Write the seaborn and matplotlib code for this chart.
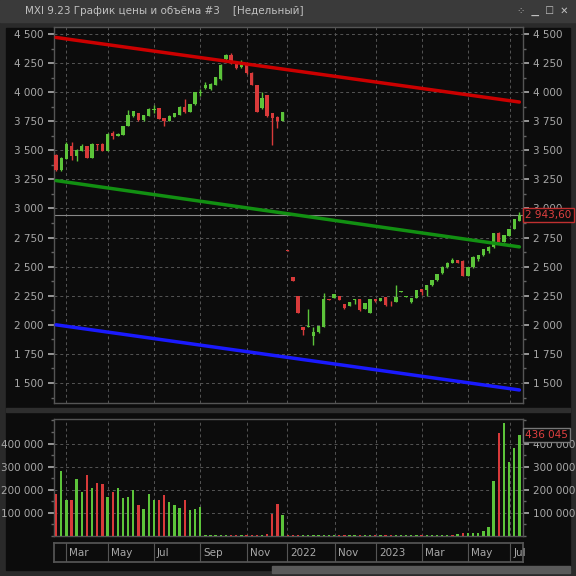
import numpy as np
import pandas as pd
import matplotlib
matplotlib.use("Agg")
import matplotlib.pyplot as plt
import seaborn as sns
from matplotlib.ticker import FixedLocator, MultipleLocator, FuncFormatter

# weekly candles (open, close), index 0..90
opens = [3456, 3330, 3428, 3534, 3451, 3494, 3534, 3436, 3551, 3554, 3494, 3646, 3623, 3631, 3709,
         3795, 3818, 3760, 3795, 3848, 3861, 3775, 3752, 3789, 3803, 3875, 3829, 3895, 3996, 4036,
         4024, 4064, 4110, 4282, 4319, 4262, 4213, 4233, 4167, 4061, 3861, 3972, 3818, 3789, 3755,
         2643, 2410, 2247, 1983, 1980, 1908, 1937, 1983, 2221, 2232, 2247, 2178, 2164, 2216, 2221,
         2138, 2103, 2224, 2207, 2238, 2206, 2195, 2285, 2242, 2195, 2232, 2307, 2298, 2341, 2384,
         2442, 2493, 2533, 2556, 2550, 2422, 2493, 2565, 2596, 2637, 2665, 2791, 2711, 2763, 2823, 2895]
closes = [3330, 3436, 3554, 3451, 3502, 3534, 3436, 3551, 3545, 3494, 3640, 3623, 3640, 3709, 3803,
          3835, 3760, 3800, 3852, 3854, 3769, 3752, 3795, 3818, 3875, 3829, 3895, 4001, 4000, 4064,
          4073, 4127, 4233, 4316, 4248, 4205, 4248, 4162, 4061, 3832, 3947, 3795, 3775, 3755, 3829,
          2637, 2379, 2103, 1954, 1986, 1937, 1989, 2221, 2215, 2261, 2213, 2144, 2195, 2220, 2126,
          2184, 2221, 2204, 2232, 2170, 2202, 2235, 2289, 2246, 2232, 2298, 2284, 2341, 2384, 2433,
          2499, 2533, 2556, 2533, 2422, 2493, 2585, 2596, 2648, 2671, 2786, 2714, 2769, 2823, 2906, 2944]
highs = [3470, 3445, 3570, 3570, 3510, 3552, 3540, 3560, 3552, 3560, 3650, 3665, 3645, 3712, 3845,
         3840, 3822, 3805, 3860, 3890, 3866, 3780, 3800, 3822, 3880, 3945, 3900, 4005, 4025, 4090,
         4078, 4130, 4240, 4330, 4340, 4265, 4275, 4240, 4170, 4065, 4005, 3975, 3822, 3795, 3832,
         2645, 2412, 2250, 1985, 2135, 1980, 1992, 2270, 2225, 2265, 2250, 2180, 2197, 2222, 2225,
         2186, 2222, 2226, 2234, 2240, 2206, 2340, 2290, 2248, 2234, 2300, 2310, 2344, 2386, 2436,
         2502, 2536, 2572, 2558, 2553, 2496, 2588, 2600, 2650, 2674, 2790, 2795, 2772, 2826, 2910, 2972]
lows = [3325, 3320, 3425, 3420, 3405, 3490, 3430, 3432, 3500, 3490, 3490, 3595, 3620, 3628, 3705,
        3790, 3756, 3756, 3792, 3818, 3765, 3705, 3748, 3786, 3800, 3825, 3826, 3892, 3970, 4030,
        4020, 4060, 4105, 4280, 4240, 4200, 4210, 4158, 4058, 3828, 3855, 3790, 3545, 3690, 3752,
        2635, 2377, 2100, 1910, 1980, 1828, 1934, 1980, 2212, 2228, 2210, 2140, 2160, 2180, 2122,
        2135, 2100, 2200, 2205, 2166, 2165, 2193, 2283, 2240, 2190, 2228, 2260, 2248, 2338, 2380,
        2440, 2490, 2530, 2530, 2420, 2418, 2490, 2550, 2593, 2620, 2662, 2710, 2708, 2760, 2820, 2890]
volumes = [180, 281, 156, 156, 247, 190, 264, 208, 229, 225, 169, 190, 206, 164, 169,
           199, 134, 117, 182, 156, 156, 177, 145, 134, 121, 156, 112, 117, 127, 6,
           6, 6, 6, 6, 6, 6, 6, 6, 6, 6, 6, 10, 94, 137, 91,
           6, 6, 6, 6, 6, 6, 6, 6, 6, 6, 6, 6, 6, 6, 6,
           6, 6, 6, 6, 6, 6, 6, 6, 6, 6, 6, 6, 6, 6, 6,
           6, 6, 6, 10, 12, 15, 12, 12, 20, 38, 238, 447, 490, 322, 382, 436]
vol_up = [0, 1, 1, 0, 1, 1, 0, 1, 0, 0, 1, 0, 1, 1, 1,
          1, 0, 1, 1, 1, 0, 0, 1, 1, 1, 0, 1, 1, 1, 1,
          1, 1, 1, 1, 0, 0, 1, 0, 0, 0, 1, 0, 0, 0, 1,
          0, 0, 0, 1, 1, 1, 1, 1, 1, 1, 0, 0, 1, 1, 0,
          1, 1, 0, 1, 0, 0, 1, 1, 1, 1, 1, 0, 1, 1, 1,
          1, 1, 0, 1, 0, 1, 1, 1, 1, 1, 1, 0, 1, 1, 1, 1]

date_labels = ["Mar", "May", "Jul", "Sep", "Nov", "2022", "Nov", "2023", "Mar", "May", "Jul"]
date_pos = [1.9, 10.1, 19.0, 28.0, 37.1, 44.9, 54.2, 62.1, 71.0, 80.0, 88.2]

# trend channel lines (start, end)
red_line = [4470, 3915]
green_line = [3240, 2670]
blue_line = [2000, 1440]
last_price = 2943.6
last_volume = 436045

GREEN = "#5cc43a"
RED = "#d83a3a"
BG = "#0c0c0c"
TXT = "#a8a8a8"

sns.set_theme(style="dark")
plt.rcParams["font.family"] = ["DejaVu Sans"]

fig = plt.figure(figsize=(5.76, 5.76), dpi=100, facecolor="#2a2a2a")
# title bar and panel background, drawn beneath the axes
fig.patches.append(plt.Rectangle((0, 1 - 22 / 576), 1, 22 / 576, transform=fig.transFigure,
                                 color="#3a3a3a", zorder=-5))
fig.patches.append(plt.Rectangle((6 / 576, 6 / 576), 564 / 576, 542 / 576, transform=fig.transFigure,
                                 color=BG, zorder=-5))
fig.patches.append(plt.Rectangle((6 / 576, 1 - 412 / 576), 564 / 576, 4 / 576, transform=fig.transFigure,
                                 color="#2e2e2e", zorder=-4))
fig.patches.append(plt.Rectangle((272 / 576, 1 - 573 / 576), 298 / 576, 7 / 576, transform=fig.transFigure,
                                 color="#5a5a5a", zorder=-4))
fig.text(25 / 576, 1 - 11 / 576, "MXI 9.23 График цены и объёма #3    [Недельный]",
         color="#c0c0c0", fontsize=7.5, va="center")
fig.text(1 - 8 / 576, 1 - 11 / 576, "⁘  ▁  ☐  ✕", color="#c0c0c0", fontsize=7, va="center", ha="right")

idx = np.arange(len(opens))
df = pd.DataFrame({"i": idx, "o": opens, "c": closes, "h": highs, "l": lows,
                   "v": np.array(volumes) * 1000, "up": vol_up})


def style_ax(ax):
    ax.set_facecolor(BG)
    for s in ax.spines.values():
        s.set_color("#555555")
        s.set_linewidth(1)
    ax.tick_params(colors=TXT, labelsize=7.5, length=4, direction="out", which="major")
    ax.tick_params(which="minor", length=2, colors="#666666")
    ax.xaxis.set_major_locator(FixedLocator(date_pos))
    ax.set_xticklabels([])
    ax.tick_params(axis="x", length=0)
    ax.grid(True, color="#555555", linestyle=(0, (3, 3)), linewidth=0.7)
    ax.set_xlim(-0.4, 90.7)


fmt = FuncFormatter(lambda v, p: f"{int(v):,}".replace(",", " "))

# price panel
ax = fig.add_axes([54 / 576, 1 - 403 / 576, 469 / 576, 376 / 576])
style_ax(ax)
ax.set_ylim(1328, 4560)
ax.yaxis.set_major_locator(MultipleLocator(250))
ax.yaxis.set_minor_locator(MultipleLocator(125))
ax.yaxis.set_major_formatter(fmt)
ax.tick_params(axis="y", left=True, right=True, labelleft=True, labelright=True, which="both")
for _, r in df.iterrows():
    col = GREEN if r.c >= r.o else RED
    ax.vlines(r.i, r.l, r.h, color=col, linewidth=1, zorder=3)
    ax.bar(r.i, max(abs(r.c - r.o), 6), bottom=min(r.o, r.c), width=0.65, color=col,
           edgecolor="none", linewidth=0, zorder=3)
ends = [0, len(opens) - 1]
sns.lineplot(x=ends, y=red_line, color="#cc0000", linewidth=2.5, ax=ax, zorder=4)
sns.lineplot(x=ends, y=green_line, color="#129012", linewidth=2.5, ax=ax, zorder=4)
sns.lineplot(x=ends, y=blue_line, color="#1a1aff", linewidth=2.5, ax=ax, zorder=4)
ax.axhline(last_price, color="#888888", linewidth=0.8, zorder=2)
ax.text(1.005, last_price, f"{last_price:,.2f}".replace(",", " ").replace(".", ","),
        transform=ax.get_yaxis_transform(), color="#e04040", fontsize=7.5, va="center", ha="left",
        bbox=dict(facecolor=BG, edgecolor="#c03030", pad=1.5), zorder=5)
ax.set_xlabel("")
ax.set_ylabel("")

# volume panel
axv = fig.add_axes([54 / 576, 1 - 536 / 576, 469 / 576, 117 / 576])
style_ax(axv)
axv.set_ylim(0, 506000)
axv.yaxis.set_major_locator(FixedLocator([100000, 200000, 300000, 400000]))
axv.yaxis.set_minor_locator(MultipleLocator(50000))
axv.yaxis.set_major_formatter(fmt)
axv.tick_params(axis="y", left=True, right=True, labelleft=True, labelright=True, which="both")
axv.bar(df.i, df.v, width=0.45, color=[GREEN if u else RED for u in df.up],
        edgecolor="none", linewidth=0, zorder=3)
axv.text(1.005, last_volume, f"{last_volume:,}".replace(",", " "), transform=axv.get_yaxis_transform(),
         color="#e04040", fontsize=7.5, va="center", ha="left",
         bbox=dict(facecolor=BG, edgecolor="#777777", pad=1.5), zorder=5)

# date strip
axd = fig.add_axes([54 / 576, 1 - 562 / 576, 469 / 576, 19 / 576])
axd.set_facecolor(BG)
for s in axd.spines.values():
    s.set_color("#555555")
axd.set_xlim(-0.4, 90.7)
axd.set_ylim(0, 1)
axd.set_xticks([])
axd.set_yticks([])
for p, lab in zip(date_pos, date_labels):
    axd.axvline(p, color="#555555", linewidth=0.8)
    axd.text(p + 0.6, 0.45, lab, color=TXT, fontsize=7.5, va="center", ha="left")

fig.savefig("out.png", dpi=100, facecolor=fig.get_facecolor())
